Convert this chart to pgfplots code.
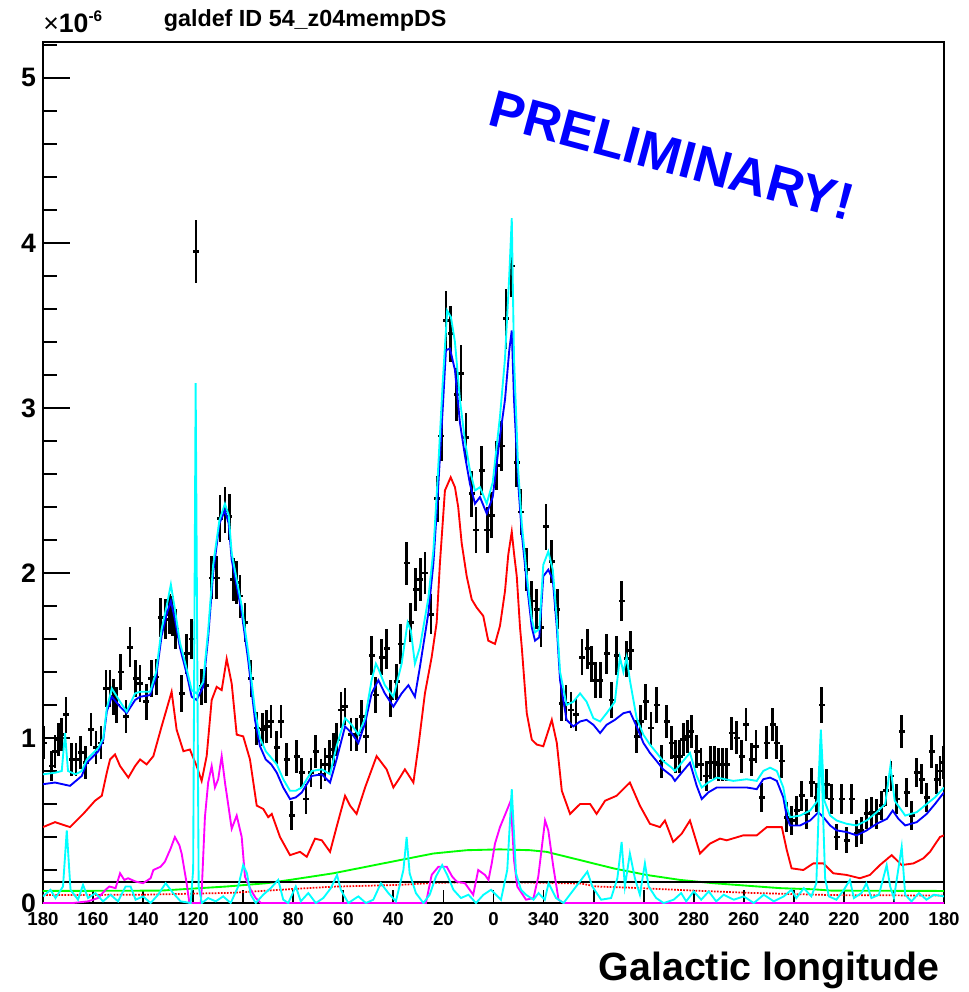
\documentclass[border=0pt]{standalone}
\usepackage{fontspec}
\setmainfont{Liberation Sans}
\usepackage{pgfplots}
\pgfplotsset{compat=1.18}

\definecolor{rblue}{rgb}{0,0,1}
\definecolor{rred}{rgb}{1,0,0}
\definecolor{rcyan}{rgb}{0,1,1}
\definecolor{rmagenta}{rgb}{1,0,1}
\definecolor{rgreen}{rgb}{0,1,0}

\begin{document}
\begin{tikzpicture}
\begin{axis}[
  scale only axis,
  width=675.75pt, height=645.75pt,
  xmin=-180, xmax=180, x dir=reverse,
  ymin=0, ymax=5.218,
  axis line style={line width=2pt},
  xtick={-180,-160,...,180},
  xticklabels={180,200,220,240,260,280,300,320,340,0,20,40,60,80,100,120,140,160,180},
  ytick={0,1,2,3,4,5},
  yticklabels={0,1,2,3,4,5},
  minor ytick={0.2,0.4,0.6,0.8,1.2,1.4,1.6,1.8,2.2,2.4,2.6,2.8,3.2,3.4,3.6,3.8,4.2,4.4,4.6,4.8,5.2},
  tick align=inside,
  xtick pos=left, ytick pos=left,
  major tick length=20pt, minor tick length=10.5pt,
  every tick/.style={black, line width=1.4pt},
  xtick style={/pgfplots/major tick length=9.75pt},
  yticklabel style={font=\fontsize{20}{20}\selectfont\bfseries, inner sep=1pt, xshift=-4pt},
  xticklabel style={font=\fontsize{14}{14}\selectfont\bfseries, inner sep=1pt, yshift=-6pt},
]

% measured intensity with errors
\addplot[draw=none, no markers, forget plot,
  error bars/.cd, x dir=both, x fixed=1.2, y dir=both, y explicit,
  error mark=none, error bar style={draw=black, solid, line width=2.1pt}]
coordinates {
(179.6,0.97)+-(0,0.10) (176.5,0.83)+-(0,0.09) (175.2,0.92)+-(0,0.10) (173.9,0.99)+-(0,0.10)
(172.5,1.02)+-(0,0.10) (170.8,1.14)+-(0,0.11) (168.5,0.87)+-(0,0.10) (166.8,0.87)+-(0,0.10)
(164.9,0.91)+-(0,0.10) (162.9,0.85)+-(0,0.10) (160.8,1.05)+-(0,0.10) (158.8,0.94)+-(0,0.10)
(156.8,0.97)+-(0,0.10) (154.8,1.30)+-(0,0.11) (153.2,1.30)+-(0,0.11) (151.8,1.25)+-(0,0.11)
(150.6,1.20)+-(0,0.11) (149.0,1.40)+-(0,0.11) (146.8,1.13)+-(0,0.10) (145.2,1.55)+-(0,0.12)
(143.0,1.36)+-(0,0.11) (141.2,1.33)+-(0,0.11) (138.8,1.22)+-(0,0.11) (136.8,1.36)+-(0,0.11)
(134.8,1.37)+-(0,0.11) (133.0,1.73)+-(0,0.12) (130.9,1.72)+-(0,0.12) (129.3,1.75)+-(0,0.12)
(128.2,1.74)+-(0,0.12) (126.9,1.66)+-(0,0.12) (124.6,1.27)+-(0,0.11) (122.6,1.51)+-(0,0.12)
(120.6,1.60)+-(0,0.12) (118.9,3.95)+-(0,0.19) (116.6,1.31)+-(0,0.11) (115.0,1.32)+-(0,0.11)
(112.6,1.97)+-(0,0.13) (110.6,1.97)+-(0,0.13) (109.3,2.33)+-(0,0.14) (107.3,2.38)+-(0,0.14)
(105.6,2.34)+-(0,0.14) (104.0,1.96)+-(0,0.13) (102.6,1.94)+-(0,0.13) (101.3,1.86)+-(0,0.13)
(99.3,1.70)+-(0,0.12) (96.9,1.36)+-(0,0.11) (94.6,1.06)+-(0,0.10) (92.2,1.05)+-(0,0.10)
(90.6,1.07)+-(0,0.10) (88.9,1.10)+-(0,0.10) (86.6,0.94)+-(0,0.10) (84.9,1.10)+-(0,0.10)
(82.6,0.87)+-(0,0.10) (80.6,0.53)+-(0,0.09) (78.6,0.89)+-(0,0.10) (76.6,0.79)+-(0,0.09)
(74.9,0.63)+-(0,0.09) (72.9,0.79)+-(0,0.09) (71.0,0.92)+-(0,0.10) (68.9,0.78)+-(0,0.09)
(67.3,0.84)+-(0,0.10) (65.6,0.89)+-(0,0.10) (64.0,0.93)+-(0,0.10) (62.7,0.99)+-(0,0.10)
(60.9,1.17)+-(0,0.11) (59.3,1.19)+-(0,0.11) (56.9,1.02)+-(0,0.10) (54.7,1.02)+-(0,0.10)
(52.7,1.13)+-(0,0.10) (50.9,1.01)+-(0,0.10) (48.7,1.50)+-(0,0.12) (47.1,1.26)+-(0,0.11)
(44.7,1.49)+-(0,0.11) (42.7,1.54)+-(0,0.12) (41.0,1.24)+-(0,0.11) (38.7,1.34)+-(0,0.11)
(37.0,1.57)+-(0,0.12) (34.7,2.06)+-(0,0.13) (33.1,1.70)+-(0,0.12) (31.1,1.90)+-(0,0.13)
(29.2,1.96)+-(0,0.13) (27.4,2.00)+-(0,0.13) (25.0,1.75)+-(0,0.12) (22.5,2.45)+-(0,0.14)
(20.9,2.83)+-(0,0.15) (19.0,3.53)+-(0,0.18) (17.1,3.45)+-(0,0.17) (14.7,3.08)+-(0,0.16)
(13.0,3.21)+-(0,0.17) (11.0,2.82)+-(0,0.15) (8.7,2.48)+-(0,0.14) (7.0,2.26)+-(0,0.14)
(4.7,2.62)+-(0,0.15) (2.5,2.26)+-(0,0.14) (0.7,2.35)+-(0,0.14) (-1.3,2.65)+-(0,0.15)
(-3.3,2.77)+-(0,0.15) (-5.0,3.54)+-(0,0.18) (-7.3,3.86)+-(0,0.19) (-9.3,2.67)+-(0,0.15)
(-11.0,2.37)+-(0,0.14) (-13.3,2.02)+-(0,0.13) (-15.3,1.83)+-(0,0.12) (-17.3,1.78)+-(0,0.12)
(-19.0,1.67)+-(0,0.12) (-21.0,2.28)+-(0,0.14) (-23.3,2.07)+-(0,0.13) (-25.5,1.78)+-(0,0.12)
(-27.2,1.21)+-(0,0.11) (-29.0,1.21)+-(0,0.11) (-31.0,1.17)+-(0,0.11) (-33.0,1.14)+-(0,0.10)
(-35.4,1.49)+-(0,0.11) (-37.6,1.54)+-(0,0.12) (-39.0,1.45)+-(0,0.11) (-40.8,1.35)+-(0,0.11)
(-42.6,1.35)+-(0,0.11) (-45.2,1.51)+-(0,0.12) (-47.2,1.23)+-(0,0.11) (-49.2,1.50)+-(0,0.12)
(-51.2,1.83)+-(0,0.12) (-53.2,1.48)+-(0,0.11) (-54.9,1.53)+-(0,0.12) (-57.2,1.01)+-(0,0.10)
(-58.8,1.10)+-(0,0.10) (-60.8,1.22)+-(0,0.11) (-62.9,1.06)+-(0,0.10) (-65.2,1.20)+-(0,0.11)
(-67.2,0.86)+-(0,0.10) (-69.2,1.10)+-(0,0.10) (-71.2,0.97)+-(0,0.10) (-72.8,0.89)+-(0,0.10)
(-74.4,0.89)+-(0,0.10) (-75.9,0.99)+-(0,0.10) (-77.4,1.01)+-(0,0.10) (-79.0,1.04)+-(0,0.10)
(-81.2,0.92)+-(0,0.10) (-82.9,0.84)+-(0,0.10) (-85.0,0.77)+-(0,0.09) (-86.6,0.85)+-(0,0.10)
(-88.2,0.85)+-(0,0.10) (-89.8,0.84)+-(0,0.10) (-91.4,0.84)+-(0,0.10) (-93.2,0.84)+-(0,0.10)
(-95.2,1.03)+-(0,0.10) (-97.2,1.00)+-(0,0.10) (-99.2,0.89)+-(0,0.10) (-100.9,1.08)+-(0,0.10)
(-103.2,0.87)+-(0,0.10) (-104.9,0.95)+-(0,0.10) (-107.2,0.64)+-(0,0.09) (-109.2,0.97)+-(0,0.10)
(-111.6,1.08)+-(0,0.10) (-113.2,0.97)+-(0,0.10) (-115.2,0.86)+-(0,0.10) (-117.2,0.52)+-(0,0.09)
(-119.1,0.50)+-(0,0.09) (-121.1,0.56)+-(0,0.09) (-123.1,0.65)+-(0,0.09) (-125.1,0.54)+-(0,0.09)
(-127.1,0.73)+-(0,0.09) (-129.1,0.64)+-(0,0.09) (-131.1,1.20)+-(0,0.11) (-133.2,0.72)+-(0,0.09)
(-134.9,0.63)+-(0,0.09) (-137.1,0.40)+-(0,0.08) (-139.1,0.63)+-(0,0.09) (-141.1,0.38)+-(0,0.08)
(-143.1,0.63)+-(0,0.09) (-145.2,0.42)+-(0,0.08) (-147.0,0.44)+-(0,0.08) (-149.1,0.54)+-(0,0.09)
(-151.1,0.55)+-(0,0.09) (-153.1,0.54)+-(0,0.09) (-155.1,0.59)+-(0,0.09) (-156.8,0.68)+-(0,0.09)
(-158.8,0.77)+-(0,0.09) (-161.1,0.63)+-(0,0.09) (-163.1,1.04)+-(0,0.10) (-165.1,0.67)+-(0,0.09)
(-167.1,0.53)+-(0,0.09) (-169.1,0.79)+-(0,0.09) (-171.1,0.75)+-(0,0.09) (-173.1,0.64)+-(0,0.09)
(-175.1,0.92)+-(0,0.10) (-177.1,0.75)+-(0,0.09) (-178.4,0.80)+-(0,0.09) (-179.7,0.85)+-(0,0.10)
};

% total model
\addplot[rblue, line width=1.4pt] coordinates {
(180,0.72) (175.2,0.73) (169.2,0.71) (164.5,0.77) (162.5,0.85) (157.9,0.92) (155.9,0.99)
(154.5,1.16) (152.5,1.25) (149.2,1.19) (146.6,1.15) (143.2,1.23) (141.2,1.25) (137.2,1.26)
(134.8,1.37) (132.6,1.62) (130.6,1.75) (128.9,1.83) (127.3,1.72) (125.3,1.55) (122.6,1.39)
(120.6,1.25) (118.6,1.23) (116.0,1.31) (114.0,1.61) (112.0,2.00) (109.5,2.30) (107.3,2.38)
(105.8,2.30) (104.6,2.08) (102.6,1.92) (100.6,1.76) (98.0,1.47) (95.3,1.11) (93.3,0.95)
(91.0,0.87) (88.8,0.84) (86.6,0.79) (84.0,0.70) (81.3,0.63) (79.0,0.64) (76.6,0.67)
(72.6,0.77) (68.6,0.78) (65.3,0.73) (62.7,0.87) (59.3,1.07) (56.7,1.03) (54.0,0.97)
(51.3,1.09) (48.7,1.27) (46.0,1.35) (43.4,1.27) (40.0,1.19) (36.7,1.27) (34.0,1.32)
(31.4,1.25) (29.4,1.43) (26.0,1.76) (24.0,2.06) (22.4,2.44) (20.3,2.99) (19.0,3.35)
(17.4,3.36) (15.4,3.23) (13.4,2.91) (11.4,2.71) (9.4,2.54) (7.4,2.42) (5.4,2.46)
(2.7,2.36) (0.3,2.46) (-2.6,2.83) (-4.6,3.05) (-6.3,3.35) (-7.3,3.47) (-8.2,3.05)
(-9.9,2.54) (-11.3,2.24) (-13.3,1.94) (-15.3,1.67) (-16.6,1.59) (-18.3,1.61) (-19.9,1.98)
(-21.9,2.02) (-23.7,1.96) (-25.3,1.67) (-26.6,1.35) (-29.2,1.11) (-31.9,1.07) (-34.6,1.10)
(-37.2,1.11) (-39.9,1.08) (-42.6,1.03) (-45.2,1.08) (-48.5,1.11) (-51.9,1.15) (-54.5,1.16)
(-57.2,1.07) (-59.9,0.97) (-62.5,0.91) (-65.2,0.86) (-67.8,0.81) (-71.2,0.77) (-72.5,0.74)
(-75.2,0.79) (-78.5,0.85) (-81.2,0.71) (-83.2,0.63) (-85.8,0.67) (-89.2,0.70) (-95.8,0.70)
(-101.2,0.70) (-105.2,0.69) (-107.8,0.75) (-110.5,0.76) (-113.2,0.74) (-115.8,0.64)
(-117.2,0.52) (-118.5,0.47) (-122.5,0.47) (-126.5,0.50) (-129.8,0.55) (-131.8,0.52)
(-134.5,0.47) (-137.1,0.44) (-141.1,0.43) (-145.1,0.41) (-149.1,0.44) (-153.1,0.48)
(-157.2,0.51) (-159.5,0.56) (-161.8,0.51) (-164.5,0.47) (-169.1,0.49) (-173.1,0.54)
(-176.4,0.60) (-180,0.67)
};

% total model with sources
\addplot[rcyan, line width=1.4pt] coordinates {
(180,0.78) (175,0.79) (172.5,0.80) (171.2,1.03) (170,0.80) (167,0.78) (164.5,0.80)
(162.5,0.87) (157.9,0.94) (155.9,1.00) (154.5,1.18) (152.5,1.30) (149.2,1.22) (146.6,1.16)
(143.2,1.27) (141.2,1.28) (137.2,1.28) (134.8,1.40) (132.6,1.66) (130.6,1.80) (128.9,1.93)
(127.3,1.78) (125.3,1.58) (122.6,1.42) (120.6,1.29) (118.6,1.27) (116.0,1.34) (114.0,1.65)
(112.0,2.05) (109.5,2.32) (107.3,2.42) (105.8,2.35) (104.6,2.12) (102.6,1.96) (100.6,1.80)
(98.0,1.52) (95.3,1.17) (93.3,1.00) (91.0,0.92) (88.8,0.88) (86.6,0.84) (84.0,0.75)
(81.3,0.68) (79.0,0.68) (76.6,0.70) (72.6,0.80) (68.6,0.81) (65.3,0.78) (62.7,0.95)
(59.3,1.12) (56.7,1.08) (54.0,1.02) (51.3,1.12) (48.7,1.35) (47,1.45) (46.0,1.42)
(43.4,1.32) (40.0,1.25) (36.7,1.45) (34.3,1.70) (33,1.65) (31.4,1.45) (29.4,1.55)
(26.0,1.85) (24.0,2.14) (22.4,2.55) (20.3,3.15) (18.5,3.59) (17,3.55) (15.4,3.40)
(13.4,3.05) (11.4,2.80) (9.4,2.62) (7.4,2.50) (5.4,2.52) (2.7,2.42) (0.3,2.55)
(-2.6,2.95) (-4.6,3.30) (-6.3,3.80) (-7.3,4.15) (-8.2,3.30) (-9.9,2.62) (-11.3,2.30)
(-13.3,1.99) (-15.3,1.72) (-16.6,1.64) (-18.3,1.66) (-19.9,2.05) (-21.9,2.13) (-23.7,2.02)
(-25.3,1.72) (-26.6,1.40) (-29.2,1.20) (-31.9,1.22) (-34.6,1.27) (-37.2,1.22) (-39.9,1.12)
(-42.6,1.10) (-45.2,1.15) (-48.5,1.22) (-50.5,1.49) (-51.9,1.40) (-53.2,1.49) (-54.5,1.35)
(-57.2,1.12) (-59.9,1.02) (-62.5,0.96) (-65.2,0.91) (-67.8,0.86) (-71.2,0.82) (-72.5,0.80)
(-75.2,0.85) (-78.5,0.91) (-81.2,0.77) (-83.2,0.70) (-85.8,0.73) (-89.2,0.76) (-95.8,0.74)
(-101.2,0.75) (-105.2,0.74) (-107.8,0.80) (-110.5,0.82) (-113.2,0.80) (-115.8,0.70)
(-117.2,0.58) (-118.5,0.52) (-122.5,0.53) (-126.5,0.56) (-129.5,0.62) (-130.8,1.05)
(-132.2,0.62) (-134.5,0.53) (-137.1,0.50) (-141.1,0.48) (-145.1,0.47) (-149.1,0.50)
(-153.1,0.55) (-156.5,0.60) (-158.6,0.83) (-160.3,0.62) (-164.5,0.53) (-169.1,0.55)
(-173.1,0.60) (-176.4,0.64) (-180,0.70)
};

% pi0 decay
\addplot[rred, line width=1.4pt] coordinates {
(180,0.46) (175.2,0.49) (169.2,0.46) (163.9,0.54) (159.2,0.62) (156.5,0.65) (154.5,0.79)
(153.2,0.87) (151.2,0.90) (149.2,0.83) (145.9,0.76) (143.2,0.83) (141.2,0.87) (138.6,0.84)
(135.9,0.89) (132.6,1.07) (128.6,1.28) (126.6,1.05) (123.9,0.92) (121.3,0.93) (118.6,0.83)
(116.6,0.74) (114.6,0.89) (112.6,1.23) (110.6,1.31) (108.6,1.29) (106.6,1.48) (104.6,1.33)
(102.6,1.02) (100.0,1.01) (97.3,0.87) (94.6,0.59) (92.0,0.57) (90.0,0.52) (88.6,0.54)
(85.3,0.40) (81.3,0.29) (77.3,0.31) (74.6,0.28) (71.3,0.39) (68.6,0.38) (65.3,0.31)
(62.7,0.46) (59.3,0.65) (57.3,0.59) (54.7,0.54) (51.3,0.70) (46.7,0.89) (42.7,0.81)
(40.0,0.70) (37.4,0.76) (35.4,0.81) (32.0,0.73) (30.0,0.95) (27.4,1.27) (24.7,1.49)
(22.7,1.70) (21.4,2.06) (19.4,2.50) (17.1,2.58) (15.4,2.52) (14.1,2.40) (12.7,2.18)
(10.7,1.98) (8.7,1.84) (6.7,1.79) (4.1,1.74) (2.1,1.59) (-0.6,1.57) (-2.6,1.68)
(-4.6,1.89) (-5.9,2.11) (-7.3,2.25) (-8.2,2.12) (-9.3,1.98) (-10.6,1.67) (-11.3,1.55)
(-13.3,1.15) (-15.3,0.99) (-17.3,0.96) (-19.9,0.95) (-23.3,1.11) (-25.3,0.97) (-27.3,0.68)
(-30.6,0.54) (-34.6,0.60) (-38.6,0.60) (-41.2,0.54) (-44.6,0.62) (-49.2,0.65) (-54.5,0.73)
(-58.5,0.59) (-62.5,0.48) (-66.5,0.46) (-68.5,0.50) (-71.8,0.37) (-75.2,0.42) (-78.5,0.50)
(-82.5,0.30) (-86.5,0.36) (-90.5,0.39) (-93.2,0.38) (-99.8,0.41) (-105.2,0.41) (-109.2,0.46)
(-115.2,0.46) (-117.2,0.32) (-119.1,0.21) (-123.8,0.20) (-127.8,0.24) (-131.8,0.24)
(-135.8,0.18) (-141.1,0.17) (-146.4,0.15) (-150.4,0.17) (-154.4,0.23) (-159.1,0.29)
(-163.1,0.23) (-167.8,0.24) (-171.7,0.27) (-174.4,0.31) (-178.4,0.40) (-180,0.41)
};

% inverse Compton
\addplot[rgreen, line width=1.4pt] coordinates {
(180,0.073) (133,0.075) (122.6,0.085) (106.6,0.10) (90.6,0.12) (81.3,0.14) (64,0.18)
(50.7,0.22) (37.4,0.26) (24,0.30) (10.7,0.32) (-2.6,0.325) (-14.6,0.32) (-21.2,0.31)
(-34.6,0.26) (-47.9,0.21) (-61.2,0.17) (-74.5,0.14) (-87.8,0.12) (-101.2,0.105)
(-114.5,0.09) (-127.8,0.083) (-135,0.075) (-180,0.073)
};

% bremsstrahlung
\addplot[rred, line width=1.3pt, densely dotted] coordinates {
(180,0.048) (140,0.050) (104,0.062) (80,0.085) (64,0.099) (37,0.11) (24,0.122) (0,0.128)
(-21,0.122) (-35,0.118) (-41,0.10) (-54.5,0.093) (-74.5,0.079) (-101,0.062) (-135,0.048)
(-180,0.045)
};

% isotropic background
\addplot[black, line width=1.4pt] coordinates {(180,0.127) (-180,0.127)};

% detected sources component
\addplot[rmagenta, line width=1.4pt] coordinates {
(180,0.00) (168,0.00) (162,0.01) (158,0.03) (155,0.08) (153.5,0.10) (151,0.09) (149.2,0.18)
(147.5,0.14) (146,0.15) (143,0.13) (140,0.12) (137,0.15) (135.9,0.20) (133,0.22) (131.3,0.25)
(129,0.33) (127.3,0.40) (125.5,0.35) (124.6,0.30) (122.6,0.12) (121.5,0.00) (117,0.00)
(116.5,0.10) (115.3,0.52) (114,0.73) (112.6,0.83) (111.3,0.70) (110,0.75) (108.6,0.89)
(107.2,0.72) (106.6,0.66) (104.6,0.45) (102.6,0.53) (100.6,0.40) (99.3,0.16) (97,0.08)
(95,0.03) (93,0.00) (27,0.00) (24.7,0.17) (22,0.22) (18.7,0.22) (16.5,0.16) (14.7,0.13)
(11.4,0.12) (8.1,0.05) (6.1,0.20) (3.4,0.17) (2,0.14) (0.7,0.24) (-0.6,0.36) (-2.6,0.46)
(-5.3,0.56) (-6.9,0.62) (-8.2,0.26) (-9.5,0.10) (-13,0.02) (-16,0.03) (-17.9,0.16)
(-20.6,0.50) (-21.9,0.44) (-23.9,0.22) (-26,0.02) (-28,0.00) (-180,0.00)
};

% point sources
\addplot[rcyan, line width=1.4pt] coordinates {
(180,0.04) (177,0.08) (175,0.03) (172,0.10) (170.5,0.44) (169,0.08) (166,0.02) (164,0.11)
(162,0.03) (159,0.06) (156,0.01) (153,0.05) (150,0.01) (147,0.10) (145,0.10) (143,0.02)
(140,0.04) (137,0.00) (134,0.05) (131,0.12) (128,0.06) (125,0.01) (121,0.00) (120,0.20)
(119,3.15) (117.8,0.10) (116.5,0.00) (114,0.03) (111,0.01) (108,0.04) (105,0.00) (102,0.10)
(100,0.23) (98.5,0.18) (97,0.05) (95,0.00) (92,0.05) (89,0.09) (86,0.14) (84,0.02) (82,0.00)
(79,0.10) (77,0.01) (74,0.06) (71,0.00) (68,0.03) (65,0.09) (62.5,0.17) (61,0.08) (58,0.00)
(54,0.04) (51,0.00) (48,0.02) (45,0.12) (42,0.06) (39,0.01) (36,0.20) (34.7,0.40) (33.5,0.18)
(31,0.06) (28,0.00) (25.5,0.05) (23,0.16) (20.5,0.23) (18.5,0.17) (16,0.08) (13,0.03)
(10,0.05) (7,0.00) (4,0.05) (1,0.08) (-3,0.02) (-5.5,0.20) (-7.3,0.69) (-9,0.18) (-11,0.08)
(-13,0.05) (-16,0.02) (-18,0.06) (-20.5,0.02) (-22,0.12) (-25,0.03) (-28,0.00) (-31,0.06)
(-35,0.14) (-37.5,0.19) (-39.5,0.10) (-43,0.02) (-47,0.03) (-49.5,0.15) (-51.2,0.37)
(-52.5,0.10) (-54.5,0.30) (-56.5,0.15) (-58.5,0.05) (-60.5,0.24) (-62,0.10) (-65,0.03)
(-68,0.00) (-72,0.02) (-75,0.06) (-77,0.01) (-80,0.07) (-83,0.02) (-86,0.07) (-89,0.01)
(-92,0.05) (-96,0.02) (-100,0.04) (-104,0.00) (-108,0.05) (-112,0.01) (-116,0.04)
(-119,0.08) (-121,0.03) (-124,0.09) (-127,0.04) (-129,0.12) (-130.8,0.97) (-132.5,0.15)
(-134,0.04) (-137,0.02) (-140,0.08) (-142.4,0.14) (-144,0.03) (-147,0.06) (-149,0.12)
(-151,0.03) (-154,0.05) (-157.1,0.23) (-158.5,0.10) (-160,0.03) (-163.1,0.34) (-164.5,0.05)
(-167,0.01) (-170,0.06) (-173,0.02) (-176,0.05) (-180,0.04)
};

\node[rotate=-15, text=rblue, font=\fontsize{39}{39}\selectfont\bfseries]
  at (axis cs:-71.3,4.53) {PRELIMINARY!};

\coordinate (ll) at (rel axis cs:0,0);
\coordinate (ur) at (rel axis cs:1,1);
\coordinate (tl) at (rel axis cs:0,1);
\coordinate (br) at (rel axis cs:1,0);
\end{axis}

\node[anchor=base, inner sep=0, font=\fontsize{17.5}{17.5}\selectfont\bfseries]
  at ([xshift=196.6pt, yshift=11.25pt]tl) {galdef ID 54\_z04mempDS};
\node[anchor=base west, inner sep=0]
  at ([yshift=6.75pt]tl) {\fontsize{20}{20}\selectfont ×\textbf{10}\raisebox{8.5pt}{\fontsize{11.5}{11.5}\selectfont\bfseries -6}};
\node[anchor=base east, inner sep=0, font=\fontsize{29.5}{29.5}\selectfont\bfseries]
  at ([xshift=-3pt, yshift=-57.75pt]br) {Galactic longitude};

\pgfresetboundingbox
\path[use as bounding box] ([xshift=-32.25pt, yshift=-66.75pt]ll) rectangle ([xshift=18.75pt, yshift=31.5pt]ur);
\end{tikzpicture}
\end{document}
